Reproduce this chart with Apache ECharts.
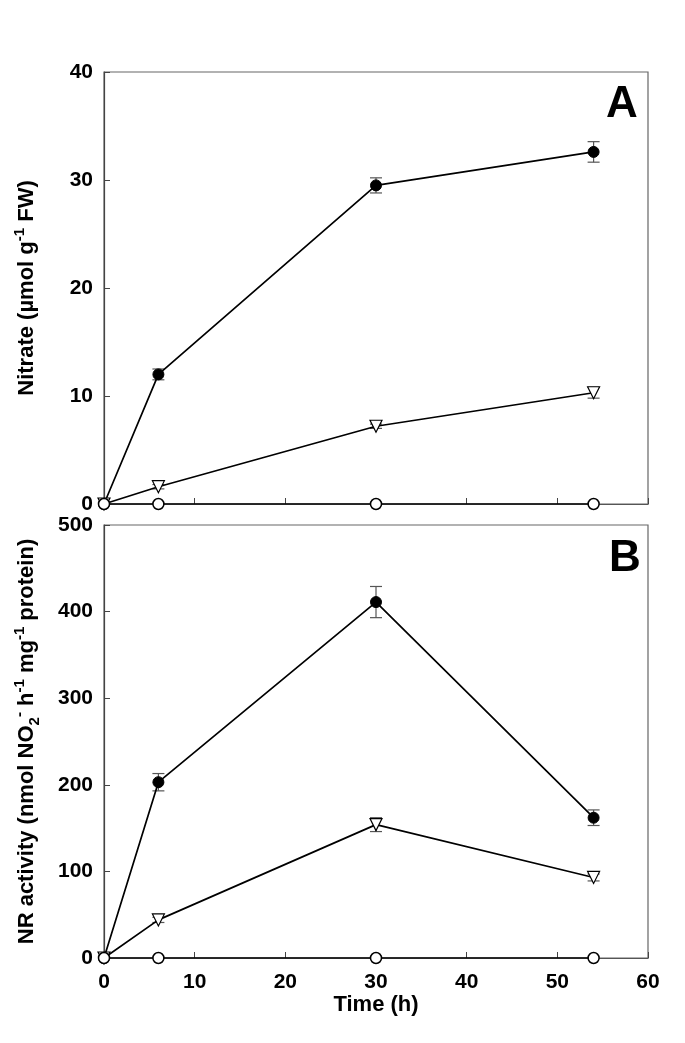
<!DOCTYPE html>
<html>
<head>
<meta charset="utf-8">
<script src="https://cdn.jsdelivr.net/npm/echarts@6/dist/echarts.min.js"></script>
<style>html,body{margin:0;padding:0;background:#fff}#c{width:685px;height:1043px}</style>
</head>
<body>
<div id="c"></div>
<script>
const times = [0, 6, 30, 54];
const nitrateFilled = [0, 12.0, 29.5, 32.6];
const nitrateFilledErr = [0, 0.5, 0.7, 0.95];
const nitrateTri = [0, 1.6, 7.2, 10.3];
const nitrateTriErr = [0, 0.2, 0.2, 0.5];
const nitrateOpen = [0, 0, 0, 0];
const nrFilled = [0, 203, 411, 162];
const nrFilledErr = [0, 10, 18, 9];
const nrTri = [0, 44, 154, 93];
const nrTriErr = [0, 3, 8, 4];
const nrOpen = [0, 0, 0, 0];

const FONT = 'Liberation Sans, Arial, sans-serif';
const chart = echarts.init(document.getElementById('c'), null, {renderer: 'canvas'});

function pts(vals) { return times.map((t, i) => [t, vals[i]]); }
function errs(vals, e) { return times.map((t, i) => [t, vals[i] - e[i], vals[i] + e[i]]); }

function errSeries(vals, e, idx) {
  return {
    type: 'custom', xAxisIndex: idx, yAxisIndex: idx, z: 1,
    data: errs(vals, e).filter(d => d[2] - d[1] > 0),
    encode: {x: 0, y: [1, 2]},
    renderItem: function (params, api) {
      const x = api.value(0), lo = api.value(1), hi = api.value(2);
      const a = api.coord([x, hi]), b = api.coord([x, lo]);
      const w = 6;
      const st = {stroke: '#555', lineWidth: 1.2};
      return {type: 'group', children: [
        {type: 'line', shape: {x1: a[0], y1: a[1], x2: b[0], y2: b[1]}, style: st},
        {type: 'line', shape: {x1: a[0] - w, y1: a[1], x2: a[0] + w, y2: a[1]}, style: st},
        {type: 'line', shape: {x1: b[0] - w, y1: b[1], x2: b[0] + w, y2: b[1]}, style: st}
      ]};
    }
  };
}

function lineSeries(vals, idx, kind) {
  const s = {
    type: 'line', xAxisIndex: idx, yAxisIndex: idx, data: pts(vals), z: 3,
    lineStyle: {color: '#000', width: 1.7}, animation: false
  };
  if (kind === 'filled') {
    s.symbol = 'circle'; s.symbolSize = 11;
    s.itemStyle = {color: '#000', borderColor: '#000', borderWidth: 1};
  } else if (kind === 'tri') {
    s.symbol = 'triangle'; s.symbolSize = 12; s.symbolRotate = 180;
    s.itemStyle = {color: '#fff', borderColor: '#000', borderWidth: 1.2};
  } else {
    s.symbol = 'circle'; s.symbolSize = 11; s.z = 4;
    s.itemStyle = {color: '#fff', borderColor: '#000', borderWidth: 1.5};
  }
  return s;
}

const tickLabel = {fontFamily: FONT, fontWeight: 'bold', fontSize: 21, color: '#000'};
const nameRich = {
  n: {fontFamily: FONT, fontWeight: 'bold', fontSize: 22, color: '#000', lineHeight: 30, verticalAlign: 'middle'},
  sup: {fontFamily: FONT, fontWeight: 'bold', fontSize: 15, color: '#000', lineHeight: 30, verticalAlign: 'top'},
  sub: {fontFamily: FONT, fontWeight: 'bold', fontSize: 15, color: '#000', lineHeight: 30, verticalAlign: 'bottom'}
};

function xAxis(idx, showLabels) {
  return {
    type: 'value', gridIndex: idx, min: 0, max: 60, interval: 10,
    axisLine: {show: true, lineStyle: {color: '#555', width: 1.2}},
    axisTick: {show: true, inside: true, length: 6, lineStyle: {color: '#444'}},
    axisLabel: Object.assign({show: showLabels, margin: 14}, tickLabel),
    splitLine: {show: false},
    name: showLabels ? 'Time (h)' : '',
    nameLocation: 'middle', nameGap: 34,
    nameTextStyle: {fontFamily: FONT, fontWeight: 'bold', fontSize: 22, color: '#000'}
  };
}
function yAxis(idx, max, interval, name) {
  return {
    type: 'value', gridIndex: idx, min: 0, max: max, interval: interval,
    axisLine: {show: true, lineStyle: {color: '#444', width: 1.2}},
    axisTick: {show: true, inside: true, length: 6, lineStyle: {color: '#444'}},
    axisLabel: Object.assign({margin: 11}, tickLabel),
    splitLine: {show: false},
    name: name, nameLocation: 'middle', nameGap: 62, nameRotate: 90,
    nameTextStyle: {rich: nameRich}
  };
}

chart.setOption({
  animation: false,
  grid: [
    {left: 104, top: 72, width: 544, height: 432, show: true, borderColor: '#666', borderWidth: 1.2, backgroundColor: 'transparent'},
    {left: 104, top: 525, width: 544, height: 433, show: true, borderColor: '#666', borderWidth: 1.2, backgroundColor: 'transparent'}
  ],
  xAxis: [xAxis(0, false), xAxis(1, true)],
  yAxis: [
    yAxis(0, 40, 10, '{n|Nitrate (µmol g}{sup|-1}{n| FW)}'),
    yAxis(1, 500, 100, '{n|NR activity (nmol NO}{sub|2}{sup|-}{n| h}{sup|-1}{n| mg}{sup|-1}{n| protein)}')
  ],
  graphic: [
    {type: 'text', left: 606, top: 83, style: {text: 'A', fontFamily: FONT, fontWeight: 'bold', fontSize: 44, fill: '#000'}},
    {type: 'text', left: 609, top: 537, style: {text: 'B', fontFamily: FONT, fontWeight: 'bold', fontSize: 44, fill: '#000'}}
  ],
  series: [
    errSeries(nitrateFilled, nitrateFilledErr, 0),
    errSeries(nitrateTri, nitrateTriErr, 0),
    lineSeries(nitrateOpen, 0, 'open'),
    lineSeries(nitrateTri, 0, 'tri'),
    lineSeries(nitrateFilled, 0, 'filled'),
    errSeries(nrFilled, nrFilledErr, 1),
    errSeries(nrTri, nrTriErr, 1),
    lineSeries(nrOpen, 1, 'open'),
    lineSeries(nrTri, 1, 'tri'),
    lineSeries(nrFilled, 1, 'filled')
  ]
});
</script>
</body>
</html>
